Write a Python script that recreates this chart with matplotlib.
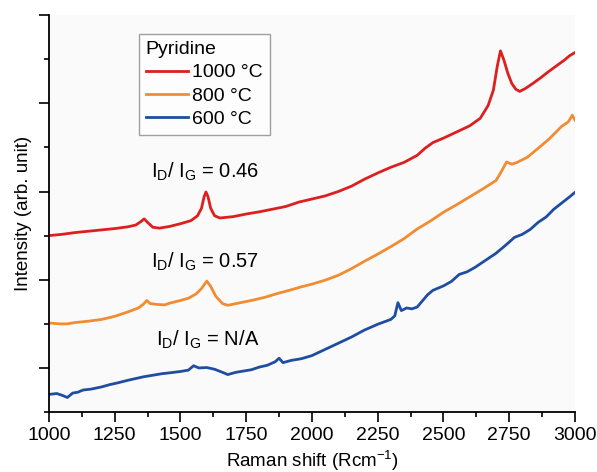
import matplotlib
matplotlib.use('Agg')
import matplotlib.pyplot as plt
from matplotlib.ticker import MultipleLocator

plt.rcParams['font.family'] = ['Liberation Sans', 'DejaVu Sans']
plt.rcParams['mathtext.fontset'] = 'custom'
plt.rcParams['mathtext.rm'] = 'Liberation Sans'

# Raman spectra (arb. units)
x_1000 = [1000, 1050, 1100, 1150, 1200, 1250, 1300, 1330, 1350, 1362, 1375, 1395,
          1420, 1460, 1500, 1540, 1565, 1580, 1590, 1597, 1605, 1615, 1630, 1650,
          1700, 1750, 1800, 1850, 1900, 1950, 2000, 2050, 2100, 2150, 2200, 2250,
          2300, 2350, 2400, 2430, 2460, 2500, 2550, 2600, 2640, 2670, 2690, 2705,
          2717, 2730, 2745, 2760, 2775, 2790, 2810, 2840, 2870, 2900, 2930, 2960,
          2980, 3000]
y_1000 = [4.00, 4.03, 4.07, 4.10, 4.13, 4.16, 4.20, 4.24, 4.32, 4.38, 4.30, 4.19,
          4.17, 4.21, 4.27, 4.34, 4.45, 4.62, 4.88, 4.99, 4.88, 4.62, 4.45, 4.40,
          4.43, 4.49, 4.54, 4.60, 4.66, 4.76, 4.83, 4.90, 5.00, 5.12, 5.28, 5.42,
          5.55, 5.66, 5.82, 5.98, 6.11, 6.21, 6.35, 6.49, 6.66, 6.95, 7.30, 7.85,
          8.19, 7.98, 7.68, 7.45, 7.32, 7.27, 7.33, 7.45, 7.58, 7.72, 7.85, 7.98,
          8.08, 8.15]

x_800 = [1000, 1040, 1070, 1100, 1150, 1200, 1250, 1300, 1340, 1360, 1372, 1385,
         1410, 1440, 1460, 1500, 1530, 1560, 1580, 1600, 1615, 1635, 1660, 1680,
         1720, 1770, 1820, 1870, 1920, 1960, 2000, 2050, 2100, 2150, 2200, 2250,
         2300, 2350, 2400, 2450, 2500, 2550, 2600, 2650, 2700, 2720, 2740, 2760,
         2780, 2820, 2860, 2900, 2950, 2975, 2990, 3000]
y_800 = [2.02, 2.00, 2.00, 2.03, 2.06, 2.10, 2.17, 2.27, 2.36, 2.45, 2.53, 2.46,
         2.44, 2.43, 2.47, 2.53, 2.58, 2.68, 2.80, 2.97, 2.85, 2.62, 2.46, 2.42,
         2.47, 2.53, 2.60, 2.69, 2.77, 2.84, 2.90, 2.99, 3.10, 3.25, 3.42, 3.58,
         3.75, 3.93, 4.15, 4.33, 4.53, 4.70, 4.88, 5.06, 5.25, 5.45, 5.67, 5.62,
         5.66, 5.78, 5.98, 6.18, 6.48, 6.58, 6.73, 6.62]

x_600 = [1000, 1030, 1050, 1070, 1090, 1110, 1130, 1160, 1200, 1230, 1260, 1300,
         1330, 1360, 1400, 1430, 1460, 1500, 1530, 1550, 1570, 1600, 1630, 1660,
         1680, 1710, 1740, 1770, 1800, 1830, 1860, 1875, 1890, 1920, 1960, 2000,
         2050, 2100, 2150, 2200, 2250, 2300, 2315, 2327, 2340, 2360, 2380, 2400,
         2420, 2440, 2460, 2500, 2530, 2560, 2590, 2620, 2650, 2680, 2700, 2740,
         2770, 2800, 2830, 2860, 2890, 2920, 2950, 2980, 3000]
y_600 = [0.40, 0.42, 0.38, 0.33, 0.43, 0.45, 0.50, 0.52, 0.57, 0.62, 0.66, 0.72,
         0.76, 0.80, 0.84, 0.87, 0.89, 0.92, 0.95, 1.05, 1.00, 1.01, 0.97, 0.90,
         0.85, 0.90, 0.93, 0.96, 1.02, 1.06, 1.14, 1.22, 1.12, 1.17, 1.21, 1.28,
         1.42, 1.56, 1.70, 1.86, 1.99, 2.10, 2.18, 2.48, 2.30, 2.36, 2.34, 2.38,
         2.52, 2.66, 2.76, 2.86, 2.96, 3.12, 3.18, 3.28, 3.40, 3.52, 3.60, 3.80,
         3.96, 4.03, 4.14, 4.30, 4.42, 4.60, 4.74, 4.88, 4.98]

ratio_labels = [r'I$_\mathrm{D}$/ I$_\mathrm{G}$ = 0.46',
                r'I$_\mathrm{D}$/ I$_\mathrm{G}$ = 0.57',
                r'I$_\mathrm{D}$/ I$_\mathrm{G}$ = N/A']
ratio_pos = [(1593, 5.44), (1593, 3.40), (1605, 1.63)]

fig = plt.figure(figsize=(5.97, 4.72), dpi=100)
ax = fig.add_axes([0.082, 0.127, 0.881, 0.841])
ax.set_facecolor('#fafafa')

lw = 2.0
ax.plot(x_1000, y_1000, color='#dc1f1f', lw=lw, label='1000 °C')
ax.plot(x_800, y_800, color='#f28c32', lw=lw, label='800 °C')
ax.plot(x_600, y_600, color='#1f4da0', lw=lw, label='600 °C')

for t, (tx, ty) in zip(ratio_labels, ratio_pos):
    ax.text(tx, ty, t, ha='center', va='center', fontsize=14.5)

ax.set_xlim(1000, 3000)
ax.set_ylim(0, 9)
ax.xaxis.set_major_locator(MultipleLocator(250))
ax.xaxis.set_minor_locator(MultipleLocator(125))
ax.set_yticks([1, 3, 5, 7, 9])
ax.set_yticks([0, 2, 4, 6, 8], minor=True)
ax.set_yticklabels([])
ax.tick_params(axis='both', which='major', direction='out', length=7, width=1.2,
               labelsize=14)
ax.tick_params(axis='both', which='minor', direction='out', length=3.5, width=1.2)
for s in ['top', 'right']:
    ax.spines[s].set_visible(False)
for s in ['left', 'bottom']:
    ax.spines[s].set_linewidth(1.3)

ax.set_xlabel(r'Raman shift (Rcm$^{\mathrm{-1}}$)', fontsize=13.5, labelpad=3)
ax.set_ylabel('Intensity (arb. unit)', fontsize=13.5, labelpad=2,
              family=['Liberation Sans Narrow', 'Liberation Sans'])

leg = ax.legend(title='Pyridine', loc='upper left', bbox_to_anchor=(0.171, 0.952),
                fontsize=14, title_fontsize=14, frameon=True, fancybox=False,
                handlelength=2.2, handletextpad=0.2, borderpad=0.35,
                labelspacing=0.3, borderaxespad=0)
leg._legend_box.align = 'left'
leg.get_frame().set_edgecolor('#888888')
leg.get_frame().set_linewidth(1.0)
leg.get_frame().set_facecolor('white')

fig.savefig('out.png', dpi=100)
